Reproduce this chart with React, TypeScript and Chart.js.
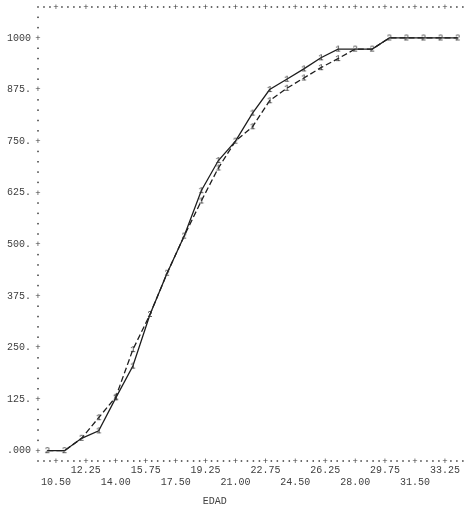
import React, { useEffect, useRef } from "react";
import { Chart, registerables } from "chart.js";

Chart.register(...registerables);

const ages = [10, 11, 12, 13, 14, 15, 16, 17, 18, 19, 20, 21, 22, 23, 24, 25, 26, 27, 28, 29, 30, 31, 32, 33, 34];
const solidSeries = [0, 0, 30, 48, 128, 205, 330, 430, 520, 630, 703, 750, 818, 875, 900, 925, 952, 973, 973, 973, 1000, 1000, 1000, 1000, 1000];
const dashedSeries = [0, 0, 30, 80, 130, 245, 330, 430, 520, 605, 685, 750, 785, 848, 878, 903, 928, 950, 973, 973, 1000, 1000, 1000, 1000, 1000];

const xTickValues = [10.5, 12.25, 14, 15.75, 17.5, 19.25, 21, 22.75, 24.5, 26.25, 28, 29.75, 31.5, 33.25];
const xTickLabels = ["10.50", "12.25", "14.00", "15.75", "17.50", "19.25", "21.00", "22.75", "24.50", "26.25", "28.00", "29.75", "31.50", "33.25"];
const yTickValues = [0, 125, 250, 375, 500, 625, 750, 875, 1000];
const yTickLabels = [".000", "125.", "250.", "375.", "500.", "625.", "750.", "875.", "1000"];
const xTitle = "EDAD";

const FONT = '"Liberation Mono", "DejaVu Sans Mono", monospace';
const TEXT_COLOR = "#404040";

function glyph(ch: string) {
  const c = document.createElement("canvas");
  c.width = 8;
  c.height = 11;
  const g = c.getContext("2d")!;
  g.fillStyle = "#333";
  g.font = `9px ${FONT}`;
  g.textAlign = "center";
  g.textBaseline = "middle";
  g.fillText(ch, 4, 6);
  return c;
}

const printerFrame = {
  id: "printerFrame",
  beforeDatasetsDraw(chart: any) {
    const { ctx, chartArea, scales } = chart;
    const { left, top, bottom } = chartArea;
    const x = scales.x;
    const y = scales.y;
    ctx.save();
    ctx.fillStyle = "#3a3a3a";
    ctx.font = `9px ${FONT}`;
    ctx.textAlign = "center";
    ctx.textBaseline = "middle";
    const colStep = (xTickValues[1] - xTickValues[0]) / 5;
    for (let k = -3; k <= 68; k++) {
      const px = x.getPixelForValue(xTickValues[0] + k * colStep);
      const isTick = k >= 0 && k % 5 === 0 && k / 5 < xTickValues.length;
      for (const py of [top, bottom]) {
        if (isTick) ctx.fillText("+", px, py + 0.5);
        else ctx.fillRect(px - 0.75, py - 0.75, 1.5, 1.5);
      }
    }
    const rowStep = (yTickValues[1] - yTickValues[0]) / 5;
    for (let r = 0; r <= 42; r++) {
      const v = yTickValues[0] + r * rowStep;
      const py = y.getPixelForValue(v);
      if (r % 5 === 0 && r / 5 < yTickValues.length) ctx.fillText("+", left, py + 0.5);
      else ctx.fillRect(left - 0.75, py - 0.75, 1.5, 1.5);
    }
    ctx.restore();
  },
};

export default function App() {
  const ref = useRef<HTMLCanvasElement>(null);
  useEffect(() => {
    const g1 = glyph("1");
    const g2 = glyph("2");
    const same = ages.map((_, i) => solidSeries[i] === dashedSeries[i]);
    const chart = new Chart(ref.current!, {
      type: "line",
      data: {
        datasets: [
          {
            data: ages.map((a, i) => ({ x: a, y: solidSeries[i] })),
            borderColor: "#1e1e1e",
            borderWidth: 1.3,
            pointStyle: same.map((s) => (s ? g2 : g1)) as any,
            pointRadius: 4,
            tension: 0,
            fill: false,
          },
          {
            data: ages.map((a, i) => ({ x: a, y: dashedSeries[i] })),
            borderColor: "#1e1e1e",
            borderWidth: 1.3,
            borderDash: [6, 3],
            pointStyle: g1 as any,
            pointRadius: same.map((s) => (s ? 0 : 4)),
            tension: 0,
            fill: false,
          },
        ],
      },
      options: {
        animation: false,
        responsive: false,
        maintainAspectRatio: false,
        layout: { padding: { left: 0, right: 2, top: 7, bottom: 2 } },
        plugins: { legend: { display: false }, tooltip: { enabled: false } },
        scales: {
          x: {
            type: "linear",
            min: 9.45,
            max: 34.35,
            grid: { display: false, drawTicks: false },
            border: { display: false },
            afterBuildTicks: (s: any) => {
              s.ticks = xTickValues.map((v) => ({ value: v }));
            },
            afterFit: (s: any) => {
              s.paddingLeft = 0;
              s.paddingRight = 0;
            },
            ticks: {
              autoSkip: false,
              maxRotation: 0,
              padding: 3,
              color: TEXT_COLOR,
              font: { family: FONT, size: 10 },
              callback: (v: any) => {
                const i = xTickValues.indexOf(Number(v));
                const lbl = xTickLabels[i];
                return i % 2 === 0 ? [" ", lbl] : [lbl, " "];
              },
            },
            title: {
              display: true,
              text: xTitle + "            ",
              color: TEXT_COLOR,
              font: { family: FONT, size: 10 },
              padding: { top: 4, bottom: 0 },
            },
          },
          y: {
            type: "linear",
            min: -25,
            max: 1075,
            grid: { display: false, drawTicks: false },
            border: { display: false },
            afterBuildTicks: (s: any) => {
              s.ticks = yTickValues.map((v) => ({ value: v }));
            },
            afterFit: (s: any) => {
              s.paddingTop = 0;
              s.paddingBottom = 0;
            },
            ticks: {
              padding: 7,
              color: TEXT_COLOR,
              font: { family: FONT, size: 10 },
              callback: (v: any) => yTickLabels[yTickValues.indexOf(Number(v))],
            },
          },
        },
      },
      plugins: [printerFrame],
    });
    return () => chart.destroy();
  }, []);
  return (
    <div style={{ position: "fixed", left: 0, top: 0, width: 469, height: 509, background: "#fff" }}>
      <canvas ref={ref} width={469} height={509} style={{ width: 469, height: 509, display: "block" }} />
    </div>
  );
}
